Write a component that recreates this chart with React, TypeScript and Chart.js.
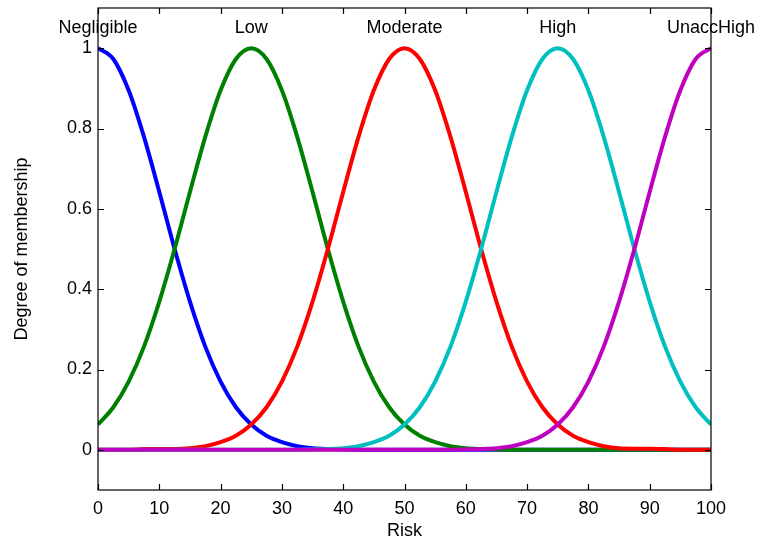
import { useEffect, useRef } from "react";
import { Chart, registerables } from "chart.js";

Chart.register(...registerables);

// risk axis, one sample every 2.5
const risk = [
  0, 2.5, 5, 7.5, 10, 12.5, 15, 17.5, 20, 22.5, 25, 27.5, 30, 32.5, 35, 37.5, 40,
  42.5, 45, 47.5, 50, 52.5, 55, 57.5, 60, 62.5, 65, 67.5, 70, 72.5, 75, 77.5, 80,
  82.5, 85, 87.5, 90, 92.5, 95, 97.5, 100,
];

const negligible = [
  1, 0.973, 0.895, 0.779, 0.642, 0.5, 0.369, 0.257, 0.17, 0.106, 0.063, 0.035,
  0.019, 0.009, 0.004, 0.002, 0.001, 0, 0, 0, 0, 0, 0, 0, 0, 0, 0, 0, 0, 0, 0, 0,
  0, 0, 0, 0, 0, 0, 0, 0, 0,
];

const low = [
  0.063, 0.106, 0.17, 0.257, 0.369, 0.5, 0.642, 0.779, 0.895, 0.973, 1, 0.973,
  0.895, 0.779, 0.642, 0.5, 0.369, 0.257, 0.17, 0.106, 0.063, 0.035, 0.019,
  0.009, 0.004, 0.002, 0.001, 0, 0, 0, 0, 0, 0, 0, 0, 0, 0, 0, 0, 0, 0,
];

const moderate = [
  0, 0, 0, 0.002, 0.002, 0.002, 0.004, 0.009, 0.019, 0.035, 0.063, 0.106, 0.17,
  0.257, 0.369, 0.5, 0.642, 0.779, 0.895, 0.973, 1, 0.973, 0.895, 0.779, 0.642,
  0.5, 0.369, 0.257, 0.17, 0.106, 0.063, 0.035, 0.019, 0.009, 0.004, 0.003,
  0.003, 0.002, 0, 0, 0,
];

const high = [
  0, 0, 0, 0, 0, 0, 0, 0, 0, 0, 0, 0, 0, 0, 0.001, 0.002, 0.004, 0.009, 0.019,
  0.035, 0.063, 0.106, 0.17, 0.257, 0.369, 0.5, 0.642, 0.779, 0.895, 0.973, 1,
  0.973, 0.895, 0.779, 0.642, 0.5, 0.369, 0.257, 0.17, 0.106, 0.063,
];

const unaccHigh = [
  0, 0, 0, 0, 0, 0, 0, 0, 0, 0, 0, 0, 0, 0, 0, 0, 0, 0, 0, 0, 0, 0, 0, 0, 0.001,
  0.002, 0.004, 0.009, 0.019, 0.035, 0.063, 0.106, 0.17, 0.257, 0.369, 0.5,
  0.642, 0.779, 0.895, 0.973, 1,
];

const setNames = ["Negligible", "Low", "Moderate", "High", "UnaccHigh"];
const setCenters = [0, 25, 50, 75, 100];
const setColors = ["#0000ff", "#008000", "#ff0000", "#00bfbf", "#bf00bf"];
const xTicks = [0, 10, 20, 30, 40, 50, 60, 70, 80, 90, 100];
const yTicks = [0, 0.2, 0.4, 0.6, 0.8, 1];

const FONT = "Liberation Sans, Arial, sans-serif";

// matlab style box with inward ticks, plus the set names above the peaks
const matlabAxes = {
  id: "matlabAxes",
  afterDraw(chart) {
    const { ctx, chartArea: a, scales } = chart;
    const x = scales.x;
    const y = scales.y;
    ctx.save();
    ctx.strokeStyle = "#000";
    ctx.lineWidth = 1.2;
    ctx.strokeRect(a.left, a.top, a.right - a.left, a.bottom - a.top);
    ctx.beginPath();
    xTicks.forEach((v) => {
      const px = Math.round(x.getPixelForValue(v)) + 0.5;
      ctx.moveTo(px, a.bottom);
      ctx.lineTo(px, a.bottom - 6);
      ctx.moveTo(px, a.top);
      ctx.lineTo(px, a.top + 6);
    });
    yTicks.forEach((v) => {
      const py = Math.round(y.getPixelForValue(v)) + 0.5;
      ctx.moveTo(a.left, py);
      ctx.lineTo(a.left + 6, py);
      ctx.moveTo(a.right, py);
      ctx.lineTo(a.right - 6, py);
    });
    ctx.stroke();

    ctx.fillStyle = "#000";
    ctx.font = `18px ${FONT}`;
    ctx.textAlign = "center";
    ctx.textBaseline = "middle";
    setNames.forEach((name, i) => {
      ctx.fillText(name, x.getPixelForValue(setCenters[i]), y.getPixelForValue(1.05));
    });
    ctx.restore();
  },
};

export default function App() {
  const ref = useRef(null);

  useEffect(() => {
    document.body.style.margin = "0";
    const series = [negligible, low, moderate, high, unaccHigh];
    const chart = new Chart(ref.current, {
      type: "line",
      data: {
        datasets: series.map((vals, i) => ({
          label: setNames[i],
          data: risk.map((r, j) => ({ x: r, y: vals[j] })),
          borderColor: setColors[i],
          borderWidth: 4,
          pointRadius: 0,
          fill: false,
          cubicInterpolationMode: "monotone",
          order: 5 - i,
        })),
      },
      options: {
        responsive: false,
        animation: false,
        layout: { padding: { top: 8, right: 53, left: 0, bottom: 0 } },
        plugins: { legend: { display: false }, tooltip: { enabled: false } },
        scales: {
          x: {
            type: "linear",
            min: 0,
            max: 100,
            afterBuildTicks: (s) => {
              s.ticks = xTicks.map((v) => ({ value: v }));
            },
            afterFit: (s) => {
              s.height = 58;
              s.paddingLeft = 0;
              s.paddingRight = 0;
            },
            grid: { display: false, drawTicks: false },
            border: { display: false },
            ticks: { color: "#000", padding: 8, font: { size: 18, family: FONT } },
            title: {
              display: true,
              text: "Risk",
              color: "#000",
              font: { size: 18, family: FONT },
              padding: { top: 0, bottom: 6 },
            },
          },
          y: {
            min: -0.1,
            max: 1.1,
            afterBuildTicks: (s) => {
              s.ticks = yTicks.map((v) => ({ value: v }));
            },
            afterFit: (s) => {
              s.width = 98;
              s.paddingTop = 0;
              s.paddingBottom = 0;
            },
            grid: { display: false, drawTicks: false },
            border: { display: false },
            ticks: {
              color: "#000",
              padding: 6,
              font: { size: 18, family: FONT },
              callback: (v) => String(Math.round(v * 10) / 10),
            },
            title: {
              display: true,
              text: "Degree of membership",
              color: "#000",
              font: { size: 18, family: FONT },
              padding: { top: 11, bottom: 0 },
            },
          },
        },
      },
      plugins: [matlabAxes],
    });
    return () => chart.destroy();
  }, []);

  return (
    <div style={{ width: 764, height: 548 }}>
      <canvas ref={ref} width={764} height={548}></canvas>
    </div>
  );
}
